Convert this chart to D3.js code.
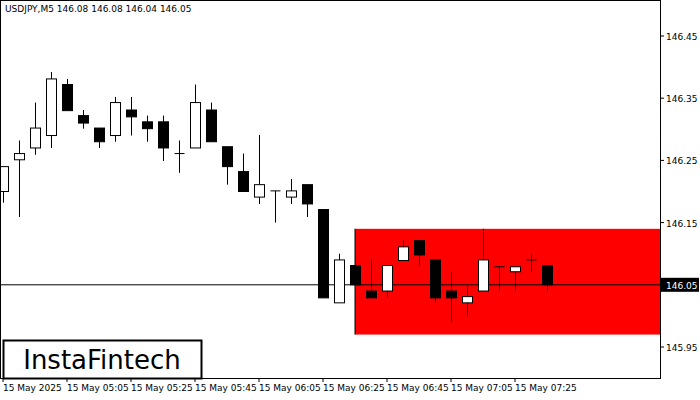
<!DOCTYPE html><html><head><meta charset="utf-8">
<script src="https://cdn.jsdelivr.net/npm/d3@7"></script>
<style>body{margin:0;background:#fff}text{font-family:"DejaVu Sans",sans-serif}</style></head><body>
<svg id="c" width="700" height="400"></svg>
<script>
const opens =[146.200,146.251,146.270,146.290,146.372,146.322,146.302,146.290,146.331,146.312,146.312,146.261,146.270,146.331,146.272,146.232,146.191,146.201,146.191,146.211,146.171,146.021,146.081,146.040,146.040,146.089,146.121,146.090,146.040,146.021,146.040,146.079,146.071,146.090,146.081];
const highs =[146.240,146.282,146.343,146.392,146.381,146.331,146.302,146.352,146.352,146.322,146.322,146.282,146.372,146.343,146.272,146.261,146.291,146.201,146.220,146.211,146.171,146.100,146.081,146.090,146.081,146.121,146.121,146.090,146.071,146.048,146.140,146.079,146.079,146.100,146.081];
const lows  =[146.182,146.159,146.259,146.270,146.330,146.301,146.270,146.280,146.290,146.280,146.249,146.230,146.270,146.280,146.211,146.200,146.180,146.150,146.180,146.159,146.029,146.021,146.050,146.029,146.029,146.089,146.079,146.021,145.989,145.999,146.040,146.040,146.040,146.071,146.040];
const closes=[146.240,146.261,146.302,146.381,146.330,146.310,146.280,146.343,146.320,146.301,146.270,146.261,146.343,146.280,146.240,146.200,146.211,146.201,146.201,146.180,146.029,146.090,146.050,146.029,146.081,146.111,146.098,146.029,146.029,146.031,146.090,146.079,146.079,146.090,146.050];
const yTicks=[145.95,146.05,146.15,146.25,146.35,146.45];
const xLabels=["15 May 2025","15 May 05:05","15 May 05:25","15 May 05:45","15 May 06:05","15 May 06:25","15 May 06:45","15 May 07:05","15 May 07:25"];
const xLabelIdx=[0,4,8,12,16,20,24,28,32];
const zone={start:22,top:146.140,bottom:145.970};
const current=146.05;

const svg=d3.select("#c");
const y=d3.scaleLinear().domain([145.95,146.45]).range([347,36]);
const x=d3.scaleLinear().domain([0,1]).range([3,19]);
const R=660,B=378;
svg.append("rect").attr("x",x(zone.start)).attr("y",y(zone.top)).attr("width",R-x(zone.start)).attr("height",y(zone.bottom)-y(zone.top)).attr("fill","#ff0000");
svg.append("line").attr("x1",x(zone.start)).attr("x2",x(zone.start)).attr("y1",y(zone.top)).attr("y2",y(zone.bottom)).attr("stroke","#000");
svg.append("line").attr("x1",0).attr("x2",R).attr("y1",y(current)).attr("y2",y(current)).attr("stroke","#000");
const g=svg.append("g");
opens.forEach((o,i)=>{
  const c=closes[i],cx=x(i)+0.5;
  g.append("line").attr("x1",cx).attr("x2",cx).attr("y1",y(highs[i])).attr("y2",y(lows[i])).attr("stroke","#000");
  const t=y(Math.max(o,c)),b=y(Math.min(o,c));
  if(b-t<1){g.append("line").attr("x1",cx-5).attr("x2",cx+5).attr("y1",t).attr("y2",t).attr("stroke","#000");}
  else g.append("rect").attr("x",cx-5).attr("y",t).attr("width",10).attr("height",b-t).attr("fill",c>=o?"#fff":"#000").attr("stroke","#000");
});
svg.append("rect").attr("x",0.5).attr("y",0.5).attr("width",R).attr("height",B).attr("fill","none").attr("stroke","#000");
yTicks.forEach(v=>{
  svg.append("line").attr("x1",R).attr("x2",R+4).attr("y1",y(v)).attr("y2",y(v)).attr("stroke","#000");
  if(v!==current) svg.append("text").attr("x",R+6).attr("y",y(v)+4).attr("font-size",9).text(v.toFixed(2));
});
svg.append("rect").attr("x",R+1).attr("y",y(current)-7).attr("width",38).attr("height",14).attr("fill","#000");
svg.append("text").attr("x",R+6).attr("y",y(current)+4).attr("font-size",9).attr("fill","#fff").text(current.toFixed(2));
xLabels.forEach((l,k)=>{
  const xx=x(xLabelIdx[k]);
  svg.append("line").attr("x1",xx).attr("x2",xx).attr("y1",B).attr("y2",B+4).attr("stroke","#000");
  svg.append("text").attr("x",xx).attr("y",B+13).attr("font-size",9).text(l);
});
svg.append("text").attr("x",5).attr("y",12).attr("font-size",9).text("USDJPY,M5  146.08 146.08 146.04 146.05");
svg.append("rect").attr("x",3.5).attr("y",340.5).attr("width",198).attr("height",38).attr("fill","#fff").attr("stroke","#000").attr("stroke-width",2);
svg.append("text").attr("x",102).attr("y",369).attr("text-anchor","middle").attr("font-size",26).attr("font-family","Open Sans").text("InstaFintech");
</script></body></html>
